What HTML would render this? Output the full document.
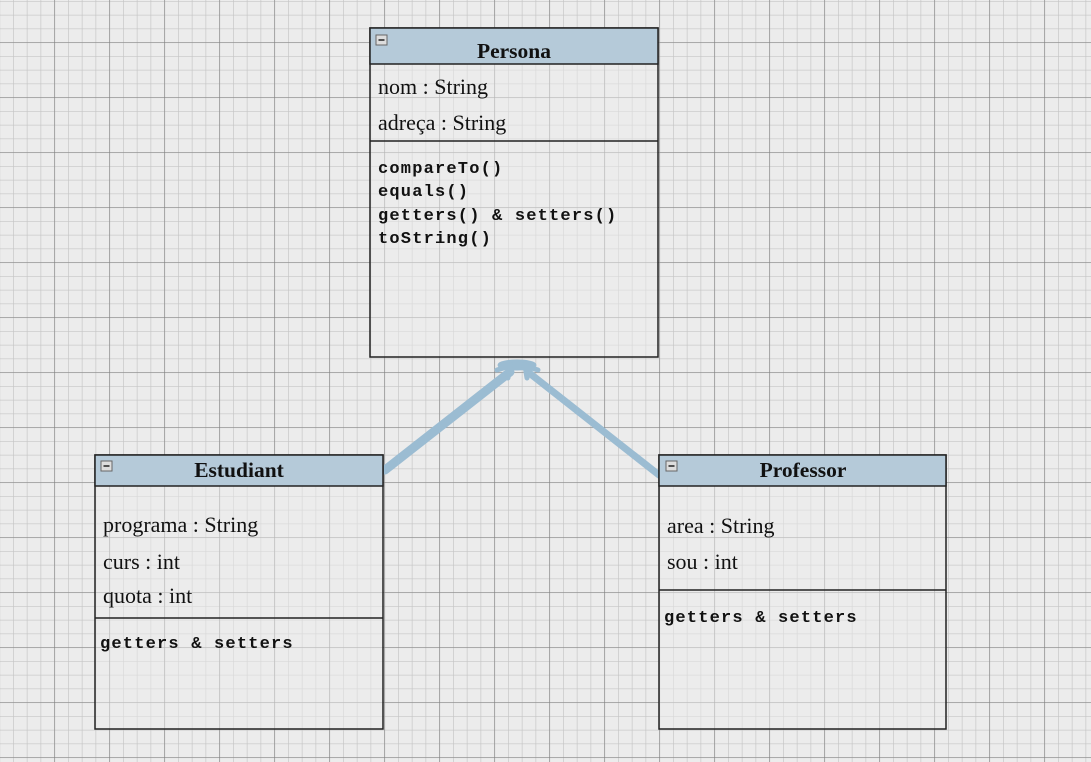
<!DOCTYPE html>
<html><head><style>
body{margin:0;width:1091px;height:762px;overflow:hidden;background:#ececec;}
svg{display:block}
.s{font-family:"Liberation Serif",serif;font-size:22px;fill:#111}
.h{font-family:"Liberation Serif",serif;font-size:21.5px;font-weight:bold;fill:#111}
.m{font-family:"Liberation Mono",monospace;font-size:17px;font-weight:bold;fill:#111;letter-spacing:1.2px}
</style></head><body>
<svg width="1091" height="762" xmlns="http://www.w3.org/2000/svg">
<defs>
<pattern id="mi" x="-0.7" y="-12.7" width="13.75" height="13.75" patternUnits="userSpaceOnUse">
<path d="M0 0V13.75M0 0H13.75" stroke="#c4c4c4" stroke-width="1.3" fill="none"/>
</pattern>
<pattern id="ma" x="-0.7" y="-12.7" width="55" height="55" patternUnits="userSpaceOnUse">
<path d="M0 0V55M0 0H55" stroke="#7c7c7c" stroke-width="1.1" fill="none"/>
</pattern>
</defs>
<rect width="1091" height="762" fill="#ececec"/>
<rect width="1091" height="762" fill="url(#mi)"/>
<rect width="1091" height="762" fill="url(#ma)"/>

<!-- arrows -->
<g stroke="#9bbcd2" fill="none" stroke-linecap="round">
<line x1="385" y1="470" x2="510" y2="372" stroke-width="9"/>
<line x1="659" y1="475" x2="528" y2="372" stroke-width="7"/>
<ellipse cx="517" cy="365" rx="18" ry="4" fill="#9bbcd2" stroke-width="3"/>
<path d="M497 370 L510 366 L508 378" stroke-width="5"/>
<path d="M538 370 L525 366 L527 378" stroke-width="5"/>
</g>

<!-- Persona -->
<g stroke="#222" stroke-width="1.5">
<rect x="370" y="28" width="288" height="329" fill="#ececec" fill-opacity="0.5"/>
<rect x="370" y="28" width="288" height="36" fill="#b5cad9"/>
<line x1="370" y1="141" x2="658" y2="141"/>
<rect x="376" y="35" width="11" height="10" fill="#ddd" stroke="#666" stroke-width="1"/>
<line x1="378.5" y1="40" x2="384.5" y2="40" stroke-width="1.5"/>
</g>
<text class="h" x="514" y="58" text-anchor="middle">Persona</text>
<text class="s" x="378" y="94">nom : String</text>
<text class="s" x="378" y="130">adreça : String</text>
<text class="m" x="378" y="173">compareTo()</text>
<text class="m" x="378" y="196">equals()</text>
<text class="m" x="378" y="220">getters() &amp; setters()</text>
<text class="m" x="378" y="243">toString()</text>

<!-- Estudiant -->
<g stroke="#222" stroke-width="1.5">
<rect x="95" y="455" width="288" height="274" fill="#ececec" fill-opacity="0.5"/>
<rect x="95" y="455" width="288" height="31" fill="#b5cad9"/>
<line x1="95" y1="618" x2="383" y2="618"/>
<rect x="101" y="461" width="11" height="10" fill="#ddd" stroke="#666" stroke-width="1"/>
<line x1="103.5" y1="466" x2="109.5" y2="466"/>
</g>
<text class="h" x="239" y="477" text-anchor="middle">Estudiant</text>
<text class="s" x="103" y="532">programa : String</text>
<text class="s" x="103" y="569">curs : int</text>
<text class="s" x="103" y="603">quota : int</text>
<text class="m" x="100" y="648">getters &amp; setters</text>

<!-- Professor -->
<g stroke="#222" stroke-width="1.5">
<rect x="659" y="455" width="287" height="274" fill="#ececec" fill-opacity="0.5"/>
<rect x="659" y="455" width="287" height="31" fill="#b5cad9"/>
<line x1="659" y1="590" x2="946" y2="590"/>
<rect x="666" y="461" width="11" height="10" fill="#ddd" stroke="#666" stroke-width="1"/>
<line x1="668.5" y1="466" x2="674.5" y2="466"/>
</g>
<text class="h" x="803" y="477" text-anchor="middle">Professor</text>
<text class="s" x="667" y="533">area : String</text>
<text class="s" x="667" y="569">sou : int</text>
<text class="m" x="664" y="622">getters &amp; setters</text>
</svg>
</body></html>
